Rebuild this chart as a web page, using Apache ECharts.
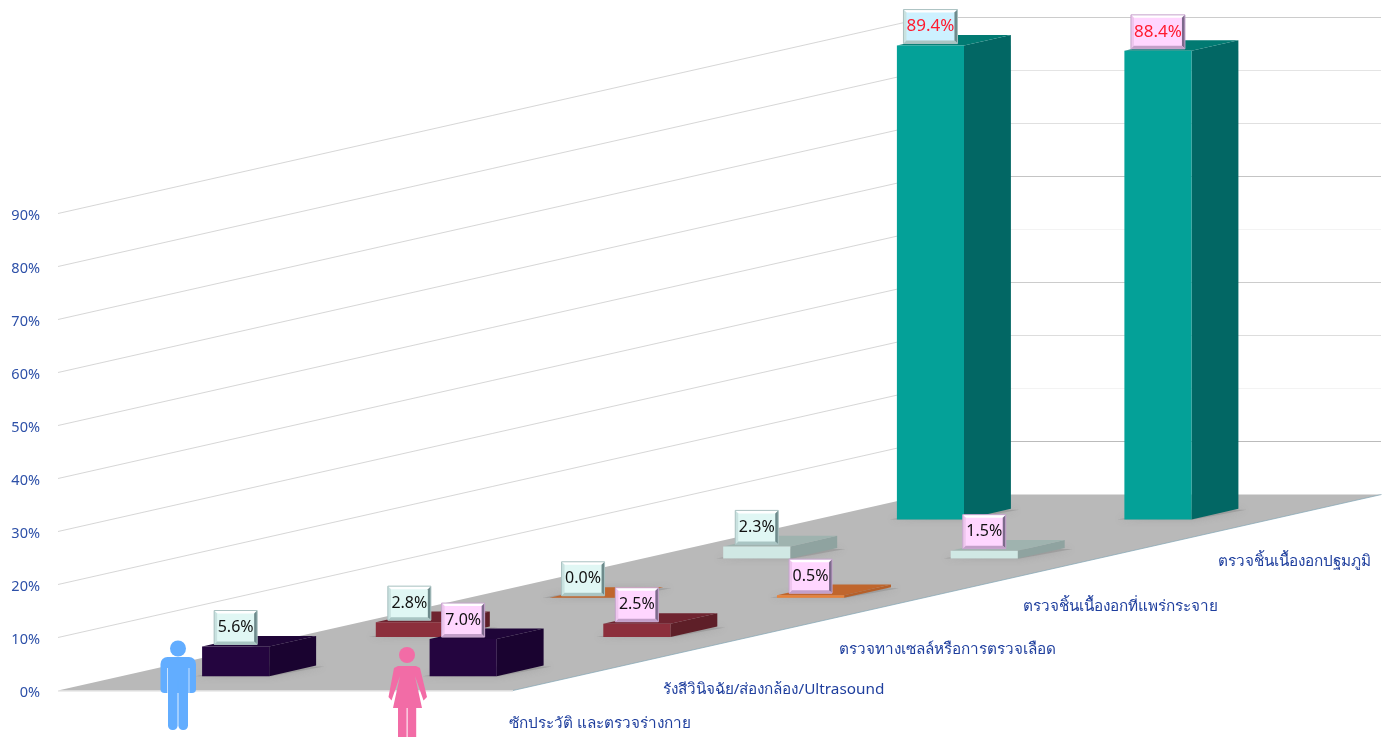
<!DOCTYPE html>
<html><head><meta charset="utf-8">
<style>html,body{margin:0;padding:0;background:#fff}#c{width:1390px;height:737px}</style>
<script src="https://cdn.jsdelivr.net/npm/echarts@6/dist/echarts.min.js"></script>
</head><body><div id="c"></div>
<script>
const categories = ['ซักประวัติ และตรวจร่างกาย','รังสีวินิจฉัย/ส่องกล้อง/Ultrasound','ตรวจทางเซลล์หรือการตรวจเลือด','ตรวจชิ้นเนื้องอกที่แพร่กระจาย','ตรวจชิ้นเนื้องอกปฐมภูมิ'];
const groups = ['ชาย','หญิง'];
const maleValues = [5.6, 2.8, 0.0, 2.3, 89.4];
const femaleValues = [7.0, 2.5, 0.5, 1.5, 88.4];
const yTicks = [0,10,20,30,40,50,60,70,80,90];

const frontColors = ['#24053f','#8c2f3c','#ea8238','#d0e8e4','#04a198'];
const topColors   = ['#1f0538','#6f2430','#c0662d','#9fb3af','#017a72'];
const sideColors  = ['#1a0330','#5e1f28','#b5602a','#8fa3a0','#026764'];
const wallShades  = {10:'#bbbbbb',20:'#f3f3f3',30:'#dddddd',40:'#cccccc',50:'#f3f3f3',60:'#c4c4c4',70:'#e0e0e0',80:'#e4e4e4',90:'#cccccc'};
const labelNudge  = [2,7,6,2,-3];
const FONT = '"Noto Sans", "DejaVu Sans", sans-serif';
const STEP_X = 173.7, STEP_Y = 39.2;
const NEAR = 0.365, FAR = 0.635, WIDTH = 0.295;

function depth(i, v){ return [(i+v)*STEP_X, -(i+v)*STEP_Y]; }
function poly(points, fill, extra){
  return Object.assign({type:'polygon', shape:{points}, style:{fill}, silent:true}, extra||{});
}
function barItem(groupIdx){
  return function(params, api){
    const i = api.value(2), val = api.value(1);
    const base = api.coord([groupIdx,0]), top = api.coord([groupIdx,val]);
    const w = api.size([1,0])[0]*WIDTH;
    const x0 = base[0]-w/2+0.5, x1 = base[0]+w/2+0.5;
    const f = depth(i,NEAR), b = depth(i,FAR);
    const yb = base[1]+f[1], yt = top[1]+f[1];
    const xf0=x0+f[0], xf1=x1+f[0], xb0=x0+b[0], xb1=x1+b[0];
    const ybb = base[1]+b[1], ytb = top[1]+b[1];
    const children = [];
    children.push(poly([[xf0-7,yb],[xf1+2,yb],[xb1+8,ybb+1],[xb0,ybb+1]],'rgba(135,135,135,0.45)',{style:{fill:'rgba(135,135,135,0.45)',shadowBlur:7,shadowColor:'rgba(120,120,120,0.7)'}}));
    children.push(poly([[xf1,yb],[xb1,ybb],[xb1,ytb],[xf1,yt]], sideColors[i]));
    children.push(poly([[xf0,yt],[xf1,yt],[xb1,ytb],[xb0,ytb]], topColors[i]));
    if (yb-yt>0.4) children.push(poly([[xf0,yb],[xf1,yb],[xf1,yt],[xf0,yt]], frontColors[i]));
    const big = val>50;
    const bw = big?54:43, bh = 34;
    const cx=(xf0+xf1)/2, by = yt-bh-2, bx = cx-bw/2;
    const fem = groupIdx===1;
    const fill = fem?'#ffd6ff':(big?'#cdf1ff':'#e0f7f4');
    const hi = '#ffffff', lo = fem?'#c39fc9':'#a9c5c3', dk = fem?'#7d6a8c':'#6d8a8b', lf = fem?'#eec6ee':'#c9e2e0', edge = fem?'#c5a4cc':'#a9c0c0';
    const t=3, Z=100, z={z2:Z};
    children.push({type:'rect',shape:{x:bx,y:by,width:bw,height:bh},style:{fill},z2:Z,silent:true});
    children.push(poly([[bx,by],[bx+bw,by],[bx+bw-t,by+t],[bx+t,by+t]],hi,z));
    children.push(poly([[bx,by],[bx+t,by+t],[bx+t,by+bh-t],[bx,by+bh]],lf,z));
    children.push(poly([[bx+bw,by],[bx+bw,by+bh],[bx+bw-t,by+bh-t],[bx+bw-t,by+t]],dk,z));
    children.push(poly([[bx,by+bh],[bx+t,by+bh-t],[bx+bw-t,by+bh-t],[bx+bw,by+bh]],lo,z));
    children.push({type:'rect',shape:{x:bx,y:by,width:bw,height:bh},style:{fill:'none',stroke:edge,lineWidth:1},z2:Z,silent:true});
    children.push({type:'text',z2:Z+1,silent:true,style:{x:cx,y:by+bh/2,text:val.toFixed(1)+'%',align:'center',verticalAlign:'middle',
      font:(big?'17px ':'16px ')+FONT,fill:big?'#ff1a2e':'#111'}});
    return {type:'group',children};
  };
}
function backToFront(values,g){ return values.map((v,i)=>[g,v,i]).reverse(); }
const BLUE='#62adff', PINK='#f26ca6', SLIT='rgba(255,255,255,0.65)';
const option = {
  animation:false,
  backgroundColor:'#fff',
  grid:{left:58,top:213.5,width:455,height:477,containLabel:false},
  xAxis:{type:'category',data:groups,show:false},
  yAxis:{type:'value',min:0,max:90,interval:10,splitLine:{show:false},axisLine:{show:false},axisTick:{show:false},
    axisLabel:{margin:18,verticalAlign:'top',lineHeight:4,formatter:'{value}%',color:'#2d50a8',fontFamily:FONT,fontSize:14.5}},
  graphic:{elements:[
    {type:'circle',z:50,silent:true,shape:{cx:178,cy:648.5,r:8},style:{fill:BLUE}},
    {type:'rect',z:50,silent:true,shape:{x:160.5,y:657,width:35.5,height:36,r:[7,7,4,4]},style:{fill:BLUE}},
    {type:'rect',z:50,silent:true,shape:{x:168,y:680,width:9.6,height:50,r:[0,0,4.5,4.5]},style:{fill:BLUE}},
    {type:'rect',z:50,silent:true,shape:{x:178.4,y:680,width:9.6,height:50,r:[0,0,4.5,4.5]},style:{fill:BLUE}},
    {type:'rect',z:51,silent:true,shape:{x:167,y:668,width:1,height:26},style:{fill:SLIT}},
    {type:'rect',z:51,silent:true,shape:{x:188.5,y:668,width:1,height:26},style:{fill:SLIT}},
    {type:'circle',z:50,silent:true,shape:{cx:407,cy:655,r:8},style:{fill:PINK}},
    {type:'polygon',z:50,silent:true,shape:{points:[[398,666],[416,666],[420,668],[427,697],[423.5,700.5],[415,676],[422,708],[393,708],[400,676],[391.5,700.5],[388.5,697],[394,668]]},style:{fill:PINK}},
    {type:'rect',z:50,silent:true,shape:{x:398,y:706,width:8.6,height:31},style:{fill:PINK}},
    {type:'rect',z:50,silent:true,shape:{x:407.6,y:706,width:8.6,height:31},style:{fill:PINK}}
  ]},
  series:[
    {name:'floor',type:'custom',coordinateSystem:'cartesian2d',z:1,silent:true,data:[[0,0]],encode:{x:0,y:1},clip:false,
      renderItem(params,api){
        const c=params.coordSys, yb=c.y+c.height, x0=c.x, x1=c.x+c.width;
        const b=depth(categories.length,0);
        return {type:'group',children:[
          poly([[x0,yb],[x1,yb],[x1+b[0],yb+b[1]],[x0+b[0],yb+b[1]]],'#b9b9b9'),
          {type:'line',shape:{x1:x0,y1:yb+0.5,x2:x1,y2:yb+0.5},style:{stroke:'#dcdcdc',lineWidth:1},silent:true},
          {type:'line',shape:{x1:x1,y1:yb,x2:x1+b[0],y2:yb+b[1]},style:{stroke:'#7fa4b3',lineWidth:0.7},silent:true}
        ]};
      }},
    {name:'wall',type:'custom',coordinateSystem:'cartesian2d',z:0,silent:true,clip:false,data:yTicks.filter(t=>t>0).map(t=>[0,t]),encode:{x:0,y:1},
      renderItem(params,api){
        const c=params.coordSys, t=api.value(1), y=api.coord([0,t])[1];
        const b=depth(categories.length,0), xb=c.x+b[0], yb=y+b[1];
        return {type:'group',children:[
          {type:'line',shape:{x1:c.x,y1:y,x2:xb,y2:yb},style:{stroke:'#c4c4c4',lineWidth:0.7},silent:true},
          {type:'line',shape:{x1:xb,y1:yb,x2:1381,y2:yb},style:{stroke:wallShades[t],lineWidth:1},silent:true}
        ]};
      }},
    {name:groups[0],type:'custom',coordinateSystem:'cartesian2d',z:2,clip:false,data:backToFront(maleValues,0),encode:{x:0,y:1},renderItem:barItem(0)},
    {name:groups[1],type:'custom',coordinateSystem:'cartesian2d',z:2,clip:false,data:backToFront(femaleValues,1),encode:{x:0,y:1},renderItem:barItem(1)},
    {name:'categories',type:'custom',coordinateSystem:'cartesian2d',z:3,silent:true,clip:false,data:categories.map((n,i)=>[1,0,i]),encode:{x:0,y:1},
      renderItem(params,api){
        const c=params.coordSys, i=api.value(2), d=depth(i,0.5);
        return {type:'text',silent:true,style:{x:c.x+c.width+d[0],y:c.y+c.height+d[1]+51+labelNudge[i],text:categories[i],align:'center',verticalAlign:'middle',font:'15.3px '+FONT,fill:'#1f3f9e'}};
      }}
  ]
};
echarts.init(document.getElementById('c')).setOption(option);
</script></body></html>
